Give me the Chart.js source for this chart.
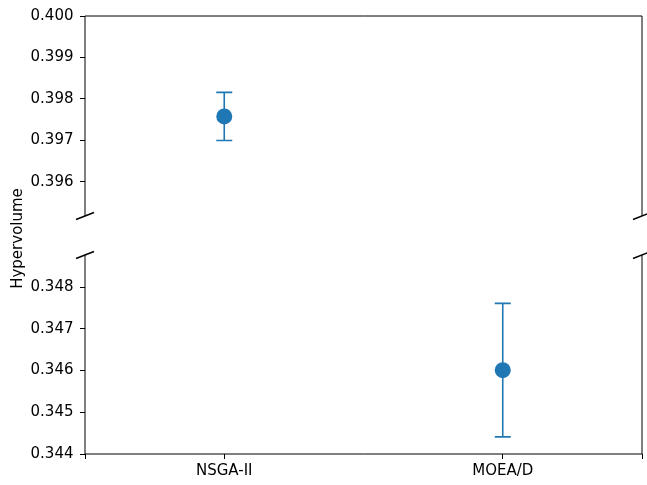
<!DOCTYPE html>
<html><head><meta charset="utf-8">
<script src="https://cdn.jsdelivr.net/npm/chart.js@4"></script>
<style>
html,body{margin:0;padding:0;background:#fff;}
#wrap{position:relative;width:647px;height:485px;}
canvas{position:absolute;left:0;top:0;}
</style></head><body>
<div id="wrap">
<canvas id="top" width="647" height="485"></canvas>
<canvas id="bot" width="647" height="485"></canvas>
</div>
<script>
const categories = ['NSGA-II', 'MOEA/D'];
const means = [0.39758, 0.34601];
const errors = [0.00058, 0.0016];
const topTicks = [0.396, 0.397, 0.398, 0.399, 0.400];
const botTicks = [0.344, 0.345, 0.346, 0.347, 0.348];
const topRange = [0.39518, 0.400];
const botRange = [0.344, 0.34877];
const xTicks = [-0.5, 0, 1, 1.5];

const COLOR = '#1f77b4';
const FONT = 'DejaVu Sans';
const FS = 15;

function pts(){ return categories.map((c,i)=>({x:i,y:means[i]})); }

const errPlugin = {
  id:'err',
  afterDatasetsDraw(chart){
    const ctx=chart.ctx, a=chart.chartArea, xs=chart.scales.x, ys=chart.scales.y;
    ctx.save();
    ctx.beginPath(); ctx.rect(a.left,a.top,a.right-a.left,a.bottom-a.top); ctx.clip();
    ctx.strokeStyle=COLOR; ctx.lineWidth=1.6;
    categories.forEach((c,i)=>{
      const x=xs.getPixelForValue(i);
      const y1=ys.getPixelForValue(means[i]-errors[i]);
      const y2=ys.getPixelForValue(means[i]+errors[i]);
      ctx.beginPath();
      ctx.moveTo(x,y1);ctx.lineTo(x,y2);
      ctx.moveTo(x-8,y1);ctx.lineTo(x+8,y1);
      ctx.moveTo(x-8,y2);ctx.lineTo(x+8,y2);
      ctx.stroke();
    });
    ctx.restore();
  }
};

function spinePlugin(which){
  return {
    id:'spines',
    afterDraw(chart){
      const ctx=chart.ctx, a=chart.chartArea;
      ctx.save();
      ctx.strokeStyle='#000'; ctx.lineWidth=1;
      ctx.beginPath();
      if(which==='top'){
        ctx.moveTo(a.left,a.bottom);ctx.lineTo(a.left,a.top);ctx.lineTo(a.right,a.top);ctx.lineTo(a.right,a.bottom);
      } else {
        ctx.moveTo(a.left,a.top);ctx.lineTo(a.left,a.bottom);ctx.lineTo(a.right,a.bottom);ctx.lineTo(a.right,a.top);
      }
      ctx.stroke();
      ctx.lineWidth=1.5;
      const yb = which==='top'? a.bottom : a.top;
      [a.left,a.right].forEach(x=>{
        ctx.beginPath();ctx.moveTo(x-9,yb+3.5);ctx.lineTo(x+9,yb-3.5);ctx.stroke();
      });
      if(which==='bot'){
        ctx.fillStyle='#000';
        ctx.font='15px "'+FONT+'"';
        ctx.translate(18,238.5);ctx.rotate(-Math.PI/2);
        ctx.textAlign='center';ctx.textBaseline='middle';
        ctx.fillText('Hypervolume',0,0);
      }
      ctx.restore();
    }
  };
}

function yScale(range,ticks){
  return {
    type:'linear',min:range[0],max:range[1],
    afterBuildTicks(s){ s.ticks=ticks.map(v=>({value:v})); },
    afterFit(s){ s.width=85; },
    ticks:{color:'#000',font:{family:FONT,size:FS},padding:6.5,callback:v=>v.toFixed(3)},
    grid:{display:true,drawOnChartArea:false,drawTicks:true,tickLength:5,color:'#000',tickWidth:1},
    border:{display:false}
  };
}

function make(id,which){
  const isTop = which==='top';
  const xs = {
    type:'linear',min:-0.5,max:1.5,display:!isTop,
    afterBuildTicks(s){ s.ticks=xTicks.map(v=>({value:v})); },
    ticks:{color:'#000',font:{family:FONT,size:FS},padding:3,maxRotation:0,autoSkip:false,
      callback:v=> (Number.isInteger(v) && categories[v]!==undefined) ? categories[v] : ''},
    grid:{display:true,drawOnChartArea:false,drawTicks:true,tickLength:5,color:'#000'},
    border:{display:false}
  };
  if(!isTop){ xs.afterFit = s=>{ s.height=31; }; }
  return new Chart(document.getElementById(id),{
    type:'scatter',
    data:{datasets:[{data:pts(),backgroundColor:COLOR,borderColor:COLOR,pointRadius:8,pointHoverRadius:8,borderWidth:0}]},
    options:{
      responsive:false,animation:false,
      layout:{autoPadding:false,padding: isTop ? {left:0,right:5,top:16,bottom:485-216} : {left:0,right:5,top:255,bottom:0}},
      plugins:{legend:{display:false},tooltip:{enabled:false}},
      scales:{ x:xs, y:yScale(isTop?topRange:botRange, isTop?topTicks:botTicks) }
    },
    plugins:[errPlugin,spinePlugin(which)]
  });
}
const c1 = make('top','top');
const c2 = make('bot','bot');
</script>
</body></html>
